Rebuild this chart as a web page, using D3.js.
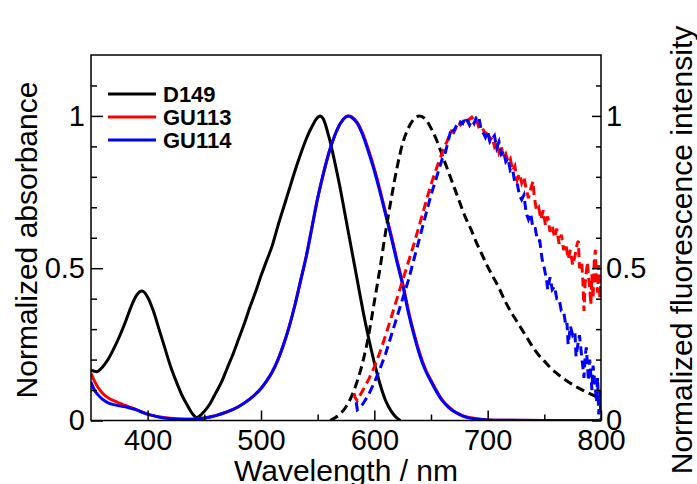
<!DOCTYPE html>
<html lang="en">
<head>
    <meta charset="UTF-8">
    <title>Absorbance and fluorescence</title>
    <script src="https://cdnjs.cloudflare.com/ajax/libs/d3/7.8.5/d3.min.js"></script>
    <style>
        body {
            margin: 0;
            background: #fff;
            font-family: 'Liberation Sans', Arial, sans-serif;
        }
        .tick text {
            font-family: 'Liberation Sans', Arial, sans-serif;
            font-size: 29px;
            fill: #000;
        }
        .tick line {
            stroke: #000;
            stroke-width: 1.5px;
        }
        .title {
            font-size: 30px;
        }
        .legend-text {
            font-size: 22px;
            font-weight: bold;
        }
    </style>
</head>
<body>
    <svg width="697" height="484"></svg>
    <script>
        // absorbance spectra (solid)
        const absD149Wl = [350, 355, 360, 365, 370, 375, 380, 385, 390, 395, 400, 405, 410, 415, 420, 425, 430, 435, 440, 443, 446, 450, 455, 460, 465, 470, 475, 480, 485, 490, 495, 500, 505, 510, 515, 520, 525, 530, 535, 540, 545, 550, 552, 555, 560, 565, 570, 575, 580, 585, 590, 595, 600, 605, 610, 615, 620, 623];
        const absD149 = [0.165, 0.16, 0.175, 0.2, 0.235, 0.275, 0.32, 0.37, 0.41, 0.425, 0.405, 0.36, 0.3, 0.24, 0.18, 0.13, 0.085, 0.05, 0.02, 0.01, 0.015, 0.03, 0.055, 0.09, 0.125, 0.17, 0.215, 0.265, 0.315, 0.37, 0.42, 0.475, 0.525, 0.575, 0.64, 0.7, 0.76, 0.82, 0.875, 0.925, 0.965, 0.995, 1.0, 0.99, 0.93, 0.85, 0.76, 0.66, 0.56, 0.46, 0.36, 0.27, 0.19, 0.12, 0.065, 0.03, 0.008, 0];

        const absGuWl = [350, 353, 356, 360, 365, 370, 375, 380, 385, 390, 395, 400, 405, 410, 415, 420, 430, 440, 450, 460, 470, 480, 490, 500, 505, 510, 515, 520, 525, 530, 535, 540, 545, 550, 555, 560, 565, 570, 575, 577, 580, 585, 590, 595, 600, 605, 610, 615, 620, 625, 630, 635, 640, 645, 650, 655, 660, 665, 670, 675, 680, 690, 700, 720, 750, 800];
        const absGU113 = [0.155, 0.13, 0.11, 0.09, 0.075, 0.065, 0.057, 0.05, 0.043, 0.036, 0.028, 0.021, 0.016, 0.012, 0.009, 0.007, 0.005, 0.004, 0.008, 0.016, 0.028, 0.045, 0.07, 0.105, 0.13, 0.16, 0.2, 0.25, 0.31, 0.38, 0.46, 0.54, 0.635, 0.73, 0.81, 0.88, 0.935, 0.975, 0.997, 1.0, 0.997, 0.978, 0.94, 0.887, 0.827, 0.757, 0.682, 0.607, 0.527, 0.452, 0.362, 0.287, 0.222, 0.17, 0.132, 0.097, 0.067, 0.047, 0.031, 0.021, 0.013, 0.006, 0.002, 0.001, 0, 0];
        const absGU114 = [0.126, 0.1, 0.085, 0.07, 0.058, 0.052, 0.048, 0.045, 0.04, 0.035, 0.027, 0.02, 0.016, 0.011, 0.008, 0.006, 0.004, 0.004, 0.008, 0.016, 0.028, 0.045, 0.07, 0.105, 0.13, 0.16, 0.2, 0.25, 0.31, 0.38, 0.46, 0.54, 0.635, 0.73, 0.81, 0.88, 0.935, 0.975, 0.997, 1.0, 0.995, 0.975, 0.935, 0.88, 0.82, 0.75, 0.675, 0.6, 0.52, 0.445, 0.355, 0.28, 0.215, 0.165, 0.128, 0.094, 0.065, 0.045, 0.03, 0.02, 0.012, 0.005, 0.002, 0.001, 0, 0];

        // fluorescence spectra (dashed)
        const emD149Wl = [561, 565, 570, 575, 580, 585, 590, 595, 600, 605, 610, 615, 620, 625, 630, 635, 640, 645, 650, 655, 660, 665, 670, 675, 680, 685, 690, 695, 700, 705, 710, 715, 720, 725, 730, 735, 740, 745, 750, 755, 760, 765, 770, 775, 780, 785, 790, 795, 800];
        const emD149 = [0, 0.008, 0.022, 0.045, 0.08, 0.13, 0.195, 0.28, 0.39, 0.5, 0.62, 0.73, 0.83, 0.91, 0.96, 0.99, 1.0, 0.99, 0.96, 0.92, 0.87, 0.82, 0.77, 0.72, 0.67, 0.63, 0.585, 0.545, 0.505, 0.47, 0.435, 0.395, 0.36, 0.33, 0.3, 0.27, 0.24, 0.215, 0.195, 0.175, 0.158, 0.143, 0.13, 0.118, 0.107, 0.097, 0.088, 0.08, 0.073];

        const emGU113Wl = [582, 583, 585, 587, 590, 595, 600, 605, 610, 615, 620, 625, 630, 635, 640, 645, 650, 655, 660, 662, 664, 666, 668, 670, 672, 674, 676, 678, 680, 682, 684, 686, 688, 690, 692, 694, 696, 698, 700, 702, 704, 706, 708, 710, 712, 714, 716, 718, 720, 722, 724, 726, 728, 730, 732, 734, 736, 738, 740, 741, 743, 745, 747, 749, 751, 753, 755, 757, 759, 761, 763, 765, 767, 769, 771, 773, 775, 777, 779, 780, 781, 783, 784, 785, 786, 788, 789, 790, 791, 792, 793, 794, 795, 796, 797, 798, 799, 800];
        const emGU113 = [0.09, 0.075, 0.065, 0.08, 0.1, 0.135, 0.175, 0.225, 0.28, 0.34, 0.4, 0.46, 0.52, 0.58, 0.645, 0.71, 0.775, 0.83, 0.88, 0.9, 0.915, 0.935, 0.95, 0.945, 0.96, 0.975, 0.97, 0.98, 0.985, 0.975, 0.99, 0.996, 0.985, 0.99, 0.965, 0.97, 0.955, 0.94, 0.95, 0.92, 0.93, 0.9, 0.915, 0.88, 0.9, 0.86, 0.875, 0.85, 0.86, 0.82, 0.835, 0.79, 0.81, 0.78, 0.8, 0.76, 0.73, 0.76, 0.785, 0.74, 0.69, 0.7, 0.66, 0.69, 0.64, 0.67, 0.62, 0.64, 0.6, 0.63, 0.58, 0.61, 0.56, 0.58, 0.53, 0.56, 0.51, 0.54, 0.58, 0.59, 0.5, 0.52, 0.46, 0.36, 0.45, 0.52, 0.47, 0.44, 0.38, 0.48, 0.4, 0.52, 0.56, 0.46, 0.42, 0.51, 0.4, 0.46];

        const emGU114Wl = [584, 585, 587, 590, 595, 600, 605, 610, 615, 620, 625, 630, 635, 640, 645, 650, 655, 660, 662, 664, 666, 668, 670, 672, 674, 676, 678, 680, 682, 684, 686, 688, 690, 692, 694, 696, 698, 700, 702, 704, 706, 708, 710, 712, 714, 716, 718, 720, 722, 724, 726, 728, 730, 732, 734, 736, 738, 740, 742, 744, 746, 748, 750, 752, 753, 755, 757, 759, 761, 763, 765, 767, 769, 770, 771, 773, 775, 777, 778, 780, 781, 783, 785, 786, 787, 789, 790, 792, 793, 795, 796, 797, 798, 799, 800];
        const emGU114 = [0.06, 0.035, 0.04, 0.055, 0.085, 0.125, 0.17, 0.22, 0.28, 0.34, 0.4, 0.46, 0.53, 0.6, 0.67, 0.74, 0.8, 0.86, 0.87, 0.9, 0.93, 0.96, 0.95, 0.965, 0.96, 0.98, 0.975, 0.995, 0.985, 0.97, 0.985, 0.975, 0.995, 1.0, 0.96, 0.945, 0.93, 0.95, 0.915, 0.925, 0.935, 0.895, 0.915, 0.875, 0.885, 0.85, 0.86, 0.82, 0.825, 0.78, 0.78, 0.74, 0.725, 0.74, 0.68, 0.66, 0.68, 0.63, 0.63, 0.59, 0.59, 0.53, 0.5, 0.46, 0.43, 0.47, 0.43, 0.44, 0.4, 0.4, 0.36, 0.36, 0.31, 0.32, 0.25, 0.31, 0.28, 0.29, 0.21, 0.26, 0.28, 0.21, 0.14, 0.21, 0.24, 0.13, 0.2, 0.1, 0.18, 0.11, 0.06, 0.14, 0.02, 0.1, 0];

        const xMajor = [400, 500, 600, 700, 800];
        const xMinor = [450, 550, 650, 750];
        const yMajor = [0, 0.5, 1];
        const yMinor = [0.1, 0.2, 0.3, 0.4, 0.6, 0.7, 0.8, 0.9, 1.1];
        const legendNames = ["D149", "GU113", "GU114"];
        const colors = ["#000000", "#ff0000", "#0000ff"];

        const svg = d3.select("svg");
        const plotLeft = 91, plotRight = 601, plotTop = 55, plotBottom = 420.5;

        const x = d3.scaleLinear().domain([350, 800]).range([plotLeft, plotRight]);
        const y = d3.scaleLinear().domain([0, 1.2]).range([plotBottom, plotTop]);

        svg.append("clipPath").attr("id", "plot")
            .append("rect")
            .attr("x", plotLeft).attr("y", plotTop)
            .attr("width", plotRight - plotLeft).attr("height", plotBottom - plotTop);

        const smooth = d3.line()
            .x(d => x(d[0]))
            .y(d => y(d[1]))
            .curve(d3.curveMonotoneX);
        const jagged = d3.line()
            .x(d => x(d[0]))
            .y(d => y(d[1]));

        const series = [
            { wl: absD149Wl, v: absD149, c: colors[0], dash: null, l: smooth },
            { wl: absGuWl, v: absGU113, c: colors[1], dash: null, l: smooth },
            { wl: absGuWl, v: absGU114, c: colors[2], dash: null, l: smooth },
            { wl: emD149Wl, v: emD149, c: colors[0], dash: "9,5", l: smooth },
            { wl: emGU113Wl, v: emGU113, c: colors[1], dash: "9,5", l: jagged },
            { wl: emGU114Wl, v: emGU114, c: colors[2], dash: "9,5", l: jagged }
        ];

        const plot = svg.append("g").attr("clip-path", "url(#plot)");
        series.forEach(s => {
            plot.append("path")
                .datum(s.wl.map((w, i) => [w, s.v[i]]))
                .attr("fill", "none")
                .attr("stroke", s.c)
                .attr("stroke-width", 3)
                .attr("stroke-dasharray", s.dash)
                .attr("d", s.l);
        });

        // frame
        svg.append("rect")
            .attr("x", plotLeft).attr("y", plotTop)
            .attr("width", plotRight - plotLeft).attr("height", plotBottom - plotTop)
            .attr("fill", "none")
            .attr("stroke", "#000")
            .attr("stroke-width", 1.5);

        function axis(g, a) {
            g.call(a);
            g.select(".domain").remove();
        }

        const fmt = d => String(d);

        axis(svg.append("g").attr("transform", `translate(0,${plotBottom})`),
            d3.axisBottom(x).tickValues(xMajor).tickSize(-10).tickSizeOuter(0).tickPadding(9).tickFormat(fmt));
        axis(svg.append("g").attr("transform", `translate(0,${plotBottom})`),
            d3.axisBottom(x).tickValues(xMinor).tickSize(-6).tickSizeOuter(0).tickFormat(""));
        axis(svg.append("g").attr("transform", `translate(${plotLeft},0)`),
            d3.axisLeft(y).tickValues(yMajor).tickSize(-12).tickSizeOuter(0).tickPadding(6).tickFormat(fmt));
        axis(svg.append("g").attr("transform", `translate(${plotLeft},0)`),
            d3.axisLeft(y).tickValues(yMinor).tickSize(-6).tickSizeOuter(0).tickFormat(""));
        axis(svg.append("g").attr("transform", `translate(${plotRight},0)`),
            d3.axisRight(y).tickValues(yMajor).tickSize(-9).tickSizeOuter(0).tickPadding(5).tickFormat(fmt));
        axis(svg.append("g").attr("transform", `translate(${plotRight},0)`),
            d3.axisRight(y).tickValues(yMinor).tickSize(-5).tickSizeOuter(0).tickFormat(""));

        // axis titles
        svg.append("text").attr("class", "title")
            .attr("x", 346).attr("y", 481)
            .attr("text-anchor", "middle")
            .text("Wavelength / nm");
        svg.append("text").attr("class", "title")
            .attr("transform", "translate(37,240) rotate(-90)")
            .attr("text-anchor", "middle")
            .text("Normalized absorbance");
        svg.append("text").attr("class", "title")
            .attr("transform", "translate(692,250) rotate(-90)")
            .attr("text-anchor", "middle")
            .text("Normalized fluorescence intensity");

        // legend
        const legend = svg.append("g");
        legendNames.forEach((name, i) => {
            const ly = 94 + i * 23;
            legend.append("line")
                .attr("x1", 108).attr("x2", 156)
                .attr("y1", ly).attr("y2", ly)
                .attr("stroke", colors[i])
                .attr("stroke-width", 3);
            legend.append("text").attr("class", "legend-text")
                .attr("x", 163).attr("y", ly + 8)
                .text(name);
        });
    </script>
</body>
</html>
